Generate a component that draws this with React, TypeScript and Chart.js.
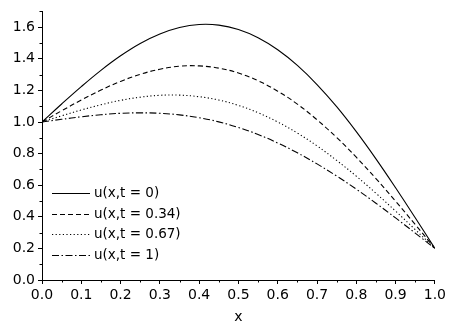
import React, { useEffect, useRef } from "react";
import { Chart, registerables } from "chart.js";

Chart.register(...registerables);

const xValues = [0, 0.05, 0.1, 0.15, 0.2, 0.25, 0.3, 0.35, 0.4, 0.45, 0.5, 0.55, 0.6, 0.65, 0.7, 0.75, 0.8, 0.85, 0.9, 0.95, 1.0];

const seriesT0 = [1.0, 1.114, 1.224, 1.327, 1.419, 1.497, 1.557, 1.598, 1.617, 1.613, 1.585, 1.533, 1.457, 1.358, 1.237, 1.097, 0.939, 0.767, 0.584, 0.394, 0.2];
const seriesT034 = [1.0, 1.071, 1.139, 1.202, 1.257, 1.302, 1.334, 1.353, 1.355, 1.341, 1.31, 1.261, 1.195, 1.113, 1.014, 0.902, 0.777, 0.642, 0.499, 0.351, 0.2];
const seriesT067 = [1.0, 1.039, 1.076, 1.109, 1.137, 1.157, 1.169, 1.17, 1.16, 1.139, 1.105, 1.059, 1.0, 0.93, 0.849, 0.757, 0.657, 0.549, 0.436, 0.319, 0.2];
const seriesT1 = [1.0, 1.017, 1.033, 1.046, 1.055, 1.058, 1.055, 1.045, 1.027, 1.001, 0.965, 0.921, 0.867, 0.805, 0.735, 0.658, 0.575, 0.486, 0.393, 0.297, 0.2];

const seriesLabels = ["u(x,t = 0)", "u(x,t = 0.34)", "u(x,t = 0.67)", "u(x,t = 1)"];

const xTicks = [0, 0.1, 0.2, 0.3, 0.4, 0.5, 0.6, 0.7, 0.8, 0.9, 1.0];
const yTicks = [0, 0.2, 0.4, 0.6, 0.8, 1.0, 1.2, 1.4, 1.6];
const xMinorTicks = [0.05, 0.15, 0.25, 0.35, 0.45, 0.55, 0.65, 0.75, 0.85, 0.95];
const yMinorTicks = [0.1, 0.3, 0.5, 0.7, 0.9, 1.1, 1.3, 1.5, 1.7];

const FONT = "'DejaVu Sans', 'Liberation Sans', Arial, sans-serif";
const dashes: number[][] = [[], [5, 3], [1.2, 2.4], [7, 2.5, 1.5, 2.5]];

const minorTicksPlugin = {
  id: "minorTicks",
  afterDraw(chart: any) {
    const ctx = chart.ctx;
    const xs = chart.scales.x;
    const ys = chart.scales.y;
    ctx.save();
    ctx.strokeStyle = "#000";
    ctx.lineWidth = 1;
    ctx.beginPath();
    const bottom = chart.chartArea.bottom;
    const left = chart.chartArea.left;
    xMinorTicks.forEach((v) => {
      const px = Math.round(xs.getPixelForValue(v)) + 0.5;
      ctx.moveTo(px, bottom);
      ctx.lineTo(px, bottom + 2.5);
    });
    yMinorTicks.forEach((v) => {
      const py = Math.round(ys.getPixelForValue(v)) + 0.5;
      ctx.moveTo(left, py);
      ctx.lineTo(left - 2.5, py);
    });
    ctx.stroke();
    ctx.restore();
  },
};

const legendPlugin = {
  id: "insideLegend",
  afterDraw(chart: any) {
    const ctx = chart.ctx;
    ctx.save();
    ctx.font = `13.5px ${FONT}`;
    ctx.textBaseline = "middle";
    ctx.fillStyle = "#000";
    const rowY = [193, 214, 234, 255];
    chart.data.datasets.forEach((ds: any, i: number) => {
      const y = rowY[i] + 0.5;
      ctx.strokeStyle = "#000";
      ctx.lineWidth = 1.1;
      ctx.setLineDash(ds.borderDash || []);
      ctx.beginPath();
      ctx.moveTo(52, y);
      ctx.lineTo(90, y);
      ctx.stroke();
      ctx.setLineDash([]);
      ctx.fillText(ds.label, 94, rowY[i]);
    });
    ctx.restore();
  },
};

export default function App() {
  const ref = useRef<HTMLCanvasElement | null>(null);

  useEffect(() => {
    if (!ref.current) return;
    const all = [seriesT0, seriesT034, seriesT067, seriesT1];
    const chart = new Chart(ref.current, {
      type: "line",
      data: {
        datasets: all.map((s, i) => ({
          label: seriesLabels[i],
          data: xValues.map((x, j) => ({ x, y: s[j] })),
          borderColor: "#000",
          borderWidth: 1.1,
          borderDash: dashes[i],
          pointRadius: 0,
          fill: false,
          tension: 0.4,
        })),
      },
      options: {
        responsive: false,
        animation: false,
        layout: { padding: { top: 8, right: 14, left: 0, bottom: 0 } },
        plugins: {
          legend: { display: false },
          tooltip: { enabled: false },
        },
        scales: {
          x: {
            type: "linear",
            min: 0,
            max: 1,
            afterBuildTicks: (scale: any) => {
              scale.ticks = xTicks.map((v) => ({ value: v }));
            },
            afterFit: (scale: any) => {
              scale.height = 42;
            },
            ticks: {
              color: "#000",
              font: { family: FONT, size: 14 },
              padding: 3,
              maxRotation: 0,
              autoSkip: false,
              callback: (v: any) => Number(v).toFixed(1),
            },
            grid: {
              drawOnChartArea: false,
              drawTicks: true,
              tickLength: 4,
              tickColor: "#000",
              color: "#000",
            },
            border: { display: true, color: "#000", width: 1 },
            title: {
              display: true,
              text: "x",
              color: "#000",
              font: { family: FONT, size: 14 },
              padding: { top: 0, bottom: -4 },
            },
          },
          y: {
            type: "linear",
            min: 0,
            max: 1.7,
            afterBuildTicks: (scale: any) => {
              scale.ticks = yTicks.map((v) => ({ value: v }));
            },
            afterFit: (scale: any) => {
              scale.width = 42;
            },
            ticks: {
              color: "#000",
              font: { family: FONT, size: 14 },
              padding: 3,
              autoSkip: false,
              callback: (v: any) => Number(v).toFixed(1),
            },
            grid: {
              drawOnChartArea: false,
              drawTicks: true,
              tickLength: 4,
              tickColor: "#000",
              color: "#000",
            },
            border: { display: true, color: "#000", width: 1 },
          },
        },
      },
      plugins: [minorTicksPlugin, legendPlugin],
    });
    return () => chart.destroy();
  }, []);

  return (
    <div style={{ position: "fixed", left: 0, top: 0, width: 449, height: 322, background: "#fff" }}>
      <canvas ref={ref} width={449} height={322} style={{ display: "block", width: 449, height: 322 }} />
    </div>
  );
}
